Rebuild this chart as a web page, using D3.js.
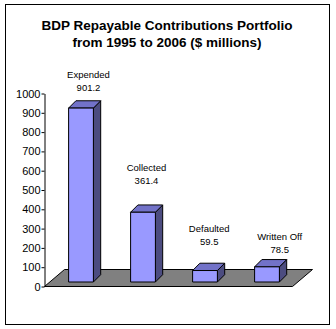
<!DOCTYPE html>
<html><head><meta charset="utf-8">
<script src="https://cdn.jsdelivr.net/npm/d3@7"></script>
<style>body{margin:0;background:#fff}svg{display:block}</style>
</head><body>
<svg id="c" width="336" height="329"></svg>
<script>
const titleLines = ["BDP Repayable Contributions Portfolio", "from 1995 to 2006 ($ millions)"];
const categories = ["Expended", "Collected", "Defaulted", "Written Off"];
const values = [901.2, 361.4, 59.5, 78.5];
const valueLabels = ["901.2", "361.4", "59.5", "78.5"];
const tickValues = [0, 100, 200, 300, 400, 500, 600, 700, 800, 900, 1000];
// label nudges (layout), relative to the top of each bar's front face
const labelNudge = [[7.5, -21], [3.5, -31.5], [4.2, -29], [12.7, -17]];

const svg = d3.select("#c");
const font = "'Liberation Sans', Arial, sans-serif";

svg.append("rect").attr("x", 5.5).attr("y", 4.5).attr("width", 324).attr("height", 320)
  .attr("fill", "#fff").attr("stroke", "#000").attr("stroke-width", 1);

svg.append("g").selectAll("text").data(titleLines).join("text")
  .attr("x", 167).attr("y", (d, i) => 29.5 + i * 17.5)
  .attr("text-anchor", "middle").attr("font-family", font)
  .attr("font-weight", "bold").attr("font-size", 13.5).text(d => d);

const axisX = 44.5;
const y = d3.scaleLinear().domain([0, 1000]).range([286.5, 93.5]);
const floorDepth = [20, -17];
const front = [5.5, -4.5];   // bars' front plane offset in the floor depth
const barDepth = [7.3, -7.3];
const x = d3.scaleBand().domain(categories).range([axisX + front[0], axisX + 248 + front[0]])
  .paddingInner(0.6).paddingOuter(0.3);

// floor
const f0 = [axisX, y(0)], f1 = [axisX + 248, y(0)];
svg.append("path")
  .attr("d", `M${f0[0]},${f0[1]}L${f1[0]},${f1[1]}L${f1[0] + floorDepth[0]},${f1[1] + floorDepth[1]}L${f0[0] + floorDepth[0]},${f0[1] + floorDepth[1]}Z`)
  .attr("fill", "#808080").attr("stroke", "#000").attr("stroke-width", 1);

// axis
const axis = d3.axisLeft(y).tickValues(tickValues).tickSize(3).tickSizeOuter(0).tickPadding(1)
  .tickFormat(d3.format("d"));
const ag = svg.append("g").attr("transform", `translate(${axisX},0)`).call(axis);
ag.selectAll("text").attr("font-family", font).attr("font-size", 11).attr("fill", "#000");
ag.selectAll("line,path").attr("stroke", "#000");

// bars
const data = categories.map((c, i) => ({c, v: values[i], lab: valueLabels[i], n: labelNudge[i]}));
const yf = v => y(v) + front[1];
const g = svg.append("g").attr("stroke", "#000").attr("stroke-width", 1).attr("stroke-linejoin", "round");
data.forEach(d => {
  const x0 = x(d.c), x1 = x0 + x.bandwidth();
  const yb = yf(0), yt = yf(d.v);
  const [dx, dy] = barDepth;
  g.append("path").attr("d", `M${x1},${yt}L${x1 + dx},${yt + dy}L${x1 + dx},${yb + dy}L${x1},${yb}Z`).attr("fill", "#4C4C80");
  g.append("path").attr("d", `M${x0},${yt}L${x0 + dx},${yt + dy}L${x1 + dx},${yt + dy}L${x1},${yt}Z`).attr("fill", "#7272C8");
  g.append("rect").attr("x", x0).attr("y", yt).attr("width", x1 - x0).attr("height", yb - yt).attr("fill", "#9999FF");

  const cx = x0 + x.bandwidth() / 2 + d.n[0];
  const cy = yt + d.n[1];
  svg.append("text").attr("x", cx).attr("y", cy + 3.5).attr("text-anchor", "middle")
    .attr("font-family", font).attr("font-size", 9.5).text(d.lab);
  svg.append("text").attr("x", cx).attr("y", cy - 13 + 3.5).attr("text-anchor", "middle")
    .attr("font-family", font).attr("font-size", 9.5).text(d.c);
});
</script>
</body></html>
